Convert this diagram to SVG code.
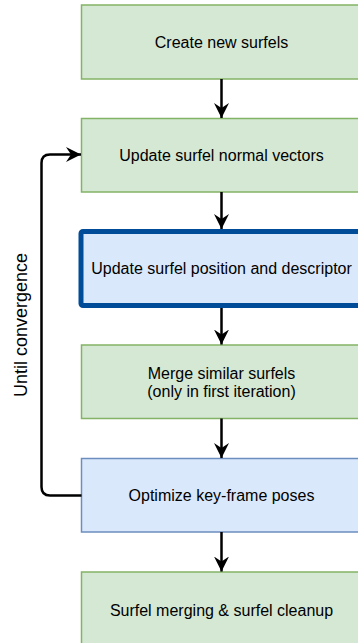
<svg xmlns="http://www.w3.org/2000/svg" width="358" height="643" viewBox="0 0 358 643">
  <style>
    .green { fill: #d5e8d4; stroke: #82b366; stroke-width: 1.5; }
    .blue { fill: #dae8fc; stroke: #6c8ebf; stroke-width: 1.5; }
    .bold { fill: #dae8fc; stroke: #004c99; stroke-width: 5; }
    .label { font-family: "Liberation Sans", Arial, Helvetica, sans-serif; font-size: 16px; fill: #000; text-anchor: middle; }
    .side { font-family: "Liberation Sans", Arial, Helvetica, sans-serif; font-size: 18px; fill: #000; text-anchor: middle; }
    .edge { fill: none; stroke: #000; stroke-width: 2.5; }
  </style>
  <defs>
    <marker id="arrow" markerUnits="userSpaceOnUse" markerWidth="16" markerHeight="16" viewBox="0 0 16 16" refX="15" refY="8" orient="auto">
      <path d="M0,0.5 L15,8 L0,15.5 L5,8 Z" fill="#000"/>
    </marker>
  </defs>
  <rect width="358" height="643" fill="#ffffff"/>

  <g id="n1">
    <rect class="green" x="81.5" y="5" width="280" height="74"/>
    <text class="label" x="221.5" y="47.5">Create new surfels</text>
  </g>
  <g id="n2">
    <rect class="green" x="81.5" y="118.5" width="280" height="73.5"/>
    <text class="label" x="221.5" y="161">Update surfel normal vectors</text>
  </g>
  <g id="n3">
    <rect class="bold" x="81" y="231.5" width="281" height="74" rx="2"/>
    <text class="label" x="221.5" y="274">Update surfel position and descriptor</text>
  </g>
  <g id="n4">
    <rect class="green" x="81.5" y="345" width="280" height="73.5"/>
    <text class="label" x="221.5" y="379">Merge similar surfels</text>
    <text class="label" x="221.5" y="397">(only in first iteration)</text>
  </g>
  <g id="n5">
    <rect class="blue" x="81.5" y="458.5" width="280" height="73.5"/>
    <text class="label" x="221.5" y="501">Optimize key-frame poses</text>
  </g>
  <g id="n6">
    <rect class="green" x="81.5" y="572" width="280" height="74"/>
    <text class="label" x="221.5" y="616">Surfel merging &amp; surfel cleanup</text>
  </g>

  <g id="connectors">
    <line class="edge" x1="221.5" y1="79" x2="221.5" y2="118" marker-end="url(#arrow)"/>
    <line class="edge" x1="221.5" y1="192" x2="221.5" y2="229" marker-end="url(#arrow)"/>
    <line class="edge" x1="221.5" y1="308" x2="221.5" y2="344.5" marker-end="url(#arrow)"/>
    <line class="edge" x1="221.5" y1="418.5" x2="221.5" y2="458" marker-end="url(#arrow)"/>
    <line class="edge" x1="221.5" y1="532" x2="221.5" y2="571.5" marker-end="url(#arrow)"/>
    <path class="edge" d="M81.5,495.5 L50,495.5 Q41.5,495.5 41.5,487 L41.5,163 Q41.5,154.5 50,154.5 L81,154.5" marker-end="url(#arrow)"/>
  </g>

  <text class="side" x="0" y="0" transform="translate(26.5,325) rotate(-90)">Until convergence</text>
</svg>
